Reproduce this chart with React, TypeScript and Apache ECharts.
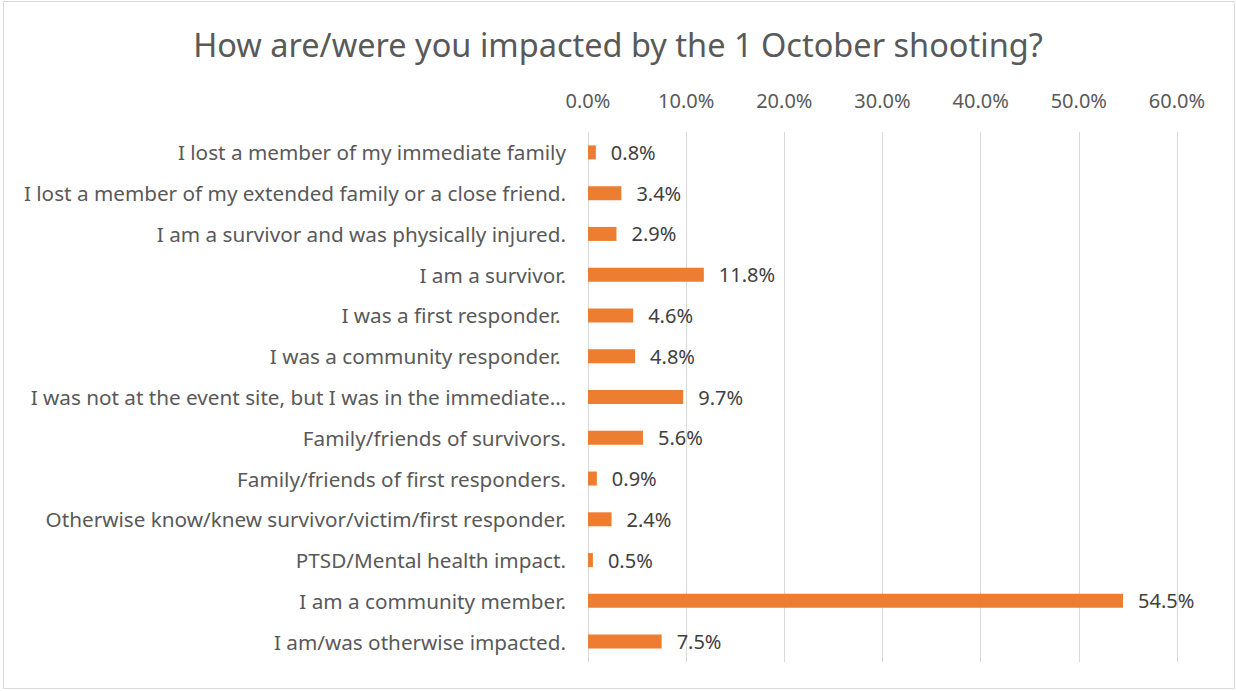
import React, { useEffect, useRef } from "react";
import * as echarts from "echarts";

const titleText = "How are/were you impacted by the 1 October shooting?";
const categories = [
  "I lost a member of my immediate family",
  "I lost a member of my extended family or a close friend.",
  "I am a survivor and was physically injured.",
  "I am a survivor.",
  "I was a first responder. ",
  "I was a community responder. ",
  "I was not at the event site, but I was in the immediate…",
  "Family/friends of survivors.",
  "Family/friends of first responders.",
  "Otherwise know/knew survivor/victim/first responder.",
  "PTSD/Mental health impact.",
  "I am a community member.",
  "I am/was otherwise impacted.",
];
const values = [0.8, 3.4, 2.9, 11.8, 4.6, 4.8, 9.7, 5.6, 0.9, 2.4, 0.5, 54.5, 7.5];
const axisMin = 0;
const axisMax = 60;
const axisStep = 10;

const FONT = "'Noto Sans', sans-serif";

export default function App() {
  const ref = useRef<HTMLDivElement>(null);
  useEffect(() => {
    if (!ref.current) return;
    const chart = echarts.init(ref.current, undefined, { renderer: "svg" });
    chart.setOption({
      animation: false,
      backgroundColor: "#ffffff",
      title: {
        text: titleText,
        left: "center",
        top: 23,
        textStyle: { fontFamily: FONT, fontSize: 32.5, fontWeight: "normal", color: "#595959" },
      },
      graphic: [
        {
          type: "rect",
          shape: { x: 3.5, y: 1.5, width: 1231, height: 687 },
          style: { fill: "none", stroke: "#d9d9d9", lineWidth: 1 },
          silent: true,
        },
      ],
      grid: { left: 588, right: 59, top: 132, bottom: 29, containLabel: false },
      xAxis: {
        type: "value",
        position: "top",
        min: axisMin,
        max: axisMax,
        interval: axisStep,
        axisLine: { show: false },
        axisTick: { show: false },
        splitLine: { show: true, lineStyle: { color: "#d9d9d9", width: 1 } },
        axisLabel: {
          margin: 22,
          fontFamily: FONT,
          fontSize: 20,
          color: "#595959",
          formatter: (v: number) => v.toFixed(1) + "%",
        },
      },
      yAxis: {
        type: "category",
        inverse: true,
        data: categories,
        axisLine: { show: false },
        axisTick: { show: false },
        splitLine: { show: false },
        axisLabel: { margin: 22, fontFamily: FONT, fontSize: 20.7, color: "#595959" },
      },
      series: [
        {
          type: "bar",
          data: values,
          barWidth: 14,
          itemStyle: { color: "#ED7D31" },
          label: {
            show: true,
            position: "right",
            distance: 15,
            fontFamily: FONT,
            fontSize: 20,
            color: "#404040",
            formatter: (p: any) => Number(p.value).toFixed(1) + "%",
          },
        },
      ],
    });
    return () => chart.dispose();
  }, []);
  return (
    <div
      ref={ref}
      style={{ position: "fixed", left: 0, top: 0, width: 1236, height: 691 }}
    />
  );
}
